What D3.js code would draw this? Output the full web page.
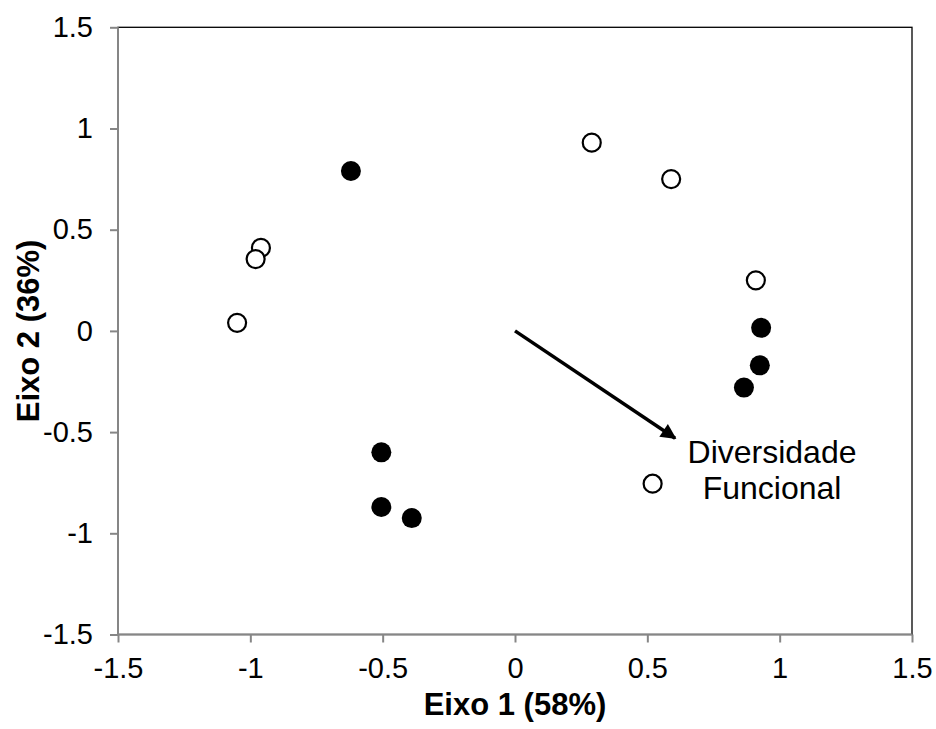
<!DOCTYPE html>
<html>
<head>
<meta charset="utf-8">
<script src="https://cdn.jsdelivr.net/npm/d3@7"></script>
<style>
  body { margin: 0; background: #fff; }
  svg { display: block; font-family: Arial, "Liberation Sans", sans-serif; }
</style>
</head>
<body>
<svg id="chart" width="936" height="729"></svg>
<script>
// Data
const openX = [0.29, 0.59, 0.91, -0.96, -0.98, -1.05, 0.52];
const openY = [0.93, 0.75, 0.25, 0.41, 0.355, 0.04, -0.755];
const filledX = [-0.62, -0.505, -0.505, -0.39, 0.93, 0.925, 0.865];
const filledY = [0.79, -0.60, -0.87, -0.925, 0.015, -0.17, -0.28];
const arrowFrom = [0, 0];
const arrowTo = [0.605, -0.53];
const arrowLabel = ["Diversidade", "Funcional"];
const tickValues = [-1.5, -1, -0.5, 0, 0.5, 1, 1.5];
const xTitle = "Eixo 1 (58%)";
const yTitle = "Eixo 2 (36%)";

(function () {
const svg = d3.select("#chart");
const pl = 118, pr = 912, pt = 27.3, pb = 634.5;
const x = d3.scaleLinear().domain([-1.5, 1.5]).range([pl, pr]);
const y = d3.scaleLinear().domain([-1.5, 1.5]).range([pb, pt]);
const fmt = d => String(d);

// plot area border (black top/right)
svg.append("rect").attr("x", pl).attr("y", pt)
  .attr("width", pr - pl).attr("height", pb - pt)
  .attr("fill", "none").attr("stroke", "#000").attr("stroke-width", 1.3);

// axes
const axisColor = "#868686";
const xAxis = svg.append("g").attr("transform", `translate(0,${pb})`)
  .call(d3.axisBottom(x).tickValues(tickValues).tickSize(8).tickPadding(15).tickFormat(fmt));
const yAxis = svg.append("g").attr("transform", `translate(${pl},0)`)
  .call(d3.axisLeft(y).tickValues(tickValues).tickSize(8).tickPadding(17).tickFormat(fmt));
[xAxis, yAxis].forEach(g => {
  g.select(".domain").attr("stroke", axisColor).attr("stroke-width", 2);
  g.selectAll(".tick line").attr("stroke", axisColor).attr("stroke-width", 2);
  g.selectAll(".tick text").attr("fill", "#000")
    .style("font-size", "29px").style("font-family", "Arial, 'Liberation Sans', sans-serif");
});
xAxis.select(".domain").attr("d", `M${pl},0H${pr}`);
yAxis.select(".domain").attr("d", `M0,${pt}V${pb}`);

// titles
svg.append("text").attr("x", (pl + pr) / 2).attr("y", 715)
  .attr("text-anchor", "middle").style("font-size", "31px").style("font-weight", "bold")
  .text(xTitle);
svg.append("text").attr("transform", `translate(39,${(pt + pb) / 2}) rotate(-90)`)
  .attr("text-anchor", "middle").style("font-size", "31px").style("font-weight", "bold")
  .text(yTitle);

// arrow
const defs = svg.append("defs");
defs.append("marker").attr("id", "ah").attr("viewBox", "0 0 10 10")
  .attr("refX", 9).attr("refY", 5).attr("markerWidth", 5).attr("markerHeight", 4.4)
  .attr("orient", "auto").attr("markerUnits", "strokeWidth")
  .append("path").attr("d", "M0,0L10,5L0,10Z").attr("fill", "#000");
svg.append("line")
  .attr("x1", x(arrowFrom[0])).attr("y1", y(arrowFrom[1]))
  .attr("x2", x(arrowTo[0])).attr("y2", y(arrowTo[1]))
  .attr("stroke", "#000").attr("stroke-width", 3.5).attr("marker-end", "url(#ah)");

// label
const lbl = svg.append("text").attr("text-anchor", "middle").style("font-size", "32px");
arrowLabel.forEach((t, i) => {
  lbl.append("tspan").attr("x", 772).attr("y", 463 + i * 36).text(t);
});

// points
const openPts = openX.map((v, i) => [v, openY[i]]);
const filledPts = filledX.map((v, i) => [v, filledY[i]]);
svg.append("g").selectAll("circle").data(openPts).join("circle")
  .attr("cx", d => x(d[0])).attr("cy", d => y(d[1])).attr("r", 9)
  .attr("fill", "#fff").attr("stroke", "#000").attr("stroke-width", 2.2);
svg.append("g").selectAll("circle").data(filledPts).join("circle")
  .attr("cx", d => x(d[0])).attr("cy", d => y(d[1])).attr("r", 10)
  .attr("fill", "#000");
})();
</script>
</body>
</html>
